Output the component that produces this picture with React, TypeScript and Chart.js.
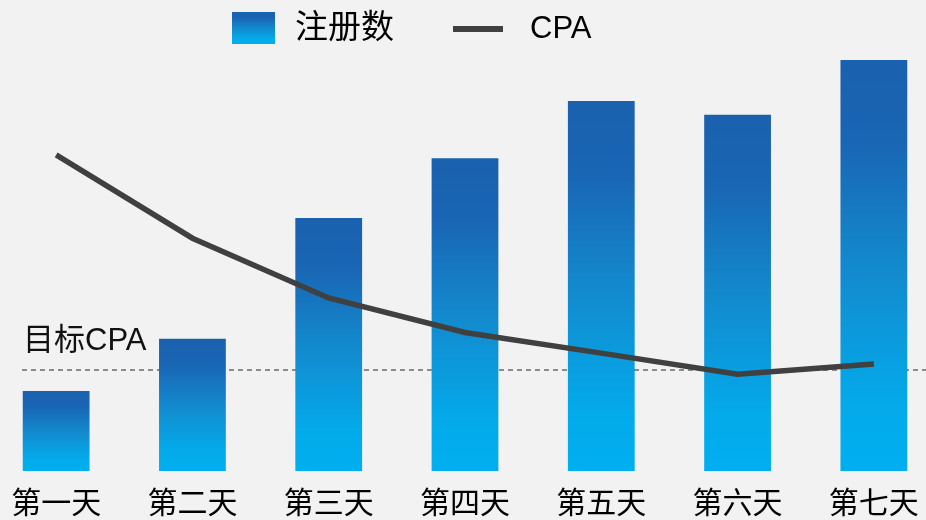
import React, { useEffect, useRef } from "react";
import { Chart, registerables } from "chart.js";

Chart.register(...registerables);

const DAYS = ["第一天", "第二天", "第三天", "第四天", "第五天", "第六天", "第七天"];
const SIGNUPS = [190, 314, 601, 743, 879, 846, 976];
const CPA = [75.1, 55.3, 41.1, 32.9, 28.0, 23.0, 25.4];
const TARGET_CPA = 24.0;
const TARGET_LABEL = "目标CPA";
const LEGEND_BAR = "注册数";
const LEGEND_LINE = "CPA";

const FONT = '"Liberation Sans", "Noto Sans CJK SC", sans-serif';
const LIGHT = "#00aeef";
const LINE_COLOR = "#404040";

// canvas is a bit wider than the page and shifted left so the plot spans edge to edge
const SHIFT = 12;
const CANVAS_W = 954;

function barGradient(ctx: CanvasRenderingContext2D, top: number, bottom: number) {
  const g = ctx.createLinearGradient(0, top, 0, bottom);
  g.addColorStop(0, "#1a61af");
  g.addColorStop(0.2, "#1966b4");
  g.addColorStop(0.5, "#1389cd");
  g.addColorStop(0.85, "#03abeb");
  g.addColorStop(1, LIGHT);
  return g;
}

const targetPlugin = {
  id: "targetLine",
  beforeDatasetsDraw(chart: any) {
    const { ctx } = chart;
    const y = chart.scales.y1.getPixelForValue(TARGET_CPA);
    ctx.save();
    ctx.strokeStyle = "#6a6a6a";
    ctx.lineWidth = 1.6;
    ctx.setLineDash([5, 4]);
    ctx.beginPath();
    ctx.moveTo(22 + SHIFT, y);
    ctx.lineTo(chart.width, y);
    ctx.stroke();
    ctx.setLineDash([]);
    ctx.fillStyle = "#111";
    ctx.font = `31px ${FONT}`;
    ctx.textBaseline = "middle";
    ctx.textAlign = "left";
    ctx.fillText(TARGET_LABEL, 23 + SHIFT, y - 29);
    ctx.restore();
  },
};

const legendPlugin = {
  id: "customLegend",
  afterDraw(chart: any) {
    const { ctx } = chart;
    const x0 = SHIFT;
    ctx.save();
    ctx.fillStyle = barGradient(ctx, 12, 44);
    ctx.fillRect(x0 + 232, 12, 43, 32);
    ctx.fillStyle = "#000";
    ctx.font = `33px ${FONT}`;
    ctx.textBaseline = "middle";
    ctx.textAlign = "left";
    ctx.fillText(LEGEND_BAR, x0 + 295, 29);
    ctx.strokeStyle = LINE_COLOR;
    ctx.lineWidth = 6;
    ctx.beginPath();
    ctx.moveTo(x0 + 453, 29);
    ctx.lineTo(x0 + 503, 29);
    ctx.stroke();
    ctx.font = `31px ${FONT}`;
    ctx.fillText(LEGEND_LINE, x0 + 530, 29);
    ctx.restore();
  },
};

export default function App() {
  const ref = useRef<HTMLCanvasElement>(null);

  useEffect(() => {
    if (!ref.current) return;
    const chart = new Chart(ref.current, {
      type: "bar",
      data: {
        labels: DAYS,
        datasets: [
          {
            type: "line",
            label: LEGEND_LINE,
            data: CPA,
            yAxisID: "y1",
            borderColor: LINE_COLOR,
            borderWidth: 5.5,
            pointRadius: 0,
            tension: 0,
            order: 0,
          } as any,
          {
            type: "bar",
            label: LEGEND_BAR,
            data: SIGNUPS,
            yAxisID: "y",
            barPercentage: 0.49,
            categoryPercentage: 1,
            order: 1,
            backgroundColor: (c: any) => {
              const chart = c.chart;
              const y = chart.scales?.y;
              if (!chart.chartArea || !y) return LIGHT;
              const v = c.parsed?.y ?? c.raw;
              return barGradient(chart.ctx, y.getPixelForValue(v), y.getPixelForValue(0));
            },
          },
        ],
      },
      options: {
        animation: false,
        responsive: false,
        devicePixelRatio: 1,
        layout: { padding: { top: 50, left: 0, right: 0, bottom: 0 } },
        plugins: {
          legend: { display: false },
          tooltip: { enabled: false },
        },
        scales: {
          x: {
            grid: { display: false, drawTicks: false },
            border: { display: false },
            ticks: {
              color: "#000",
              font: { family: FONT, size: 30 },
              padding: 16,
              maxRotation: 0,
              autoSkip: false,
            },
            afterFit: (s: any) => {
              s.height = 49;
            },
          },
          y: { display: false, min: 0, max: 1000 },
          y1: { display: false, min: 0, max: 100 },
        },
      },
      plugins: [targetPlugin, legendPlugin],
    });
    return () => chart.destroy();
  }, []);

  return (
    <div
      style={{
        position: "absolute",
        left: 0,
        top: 0,
        width: 926,
        height: 520,
        overflow: "hidden",
        background: "#f2f2f2",
      }}
    >
      <canvas
        ref={ref}
        width={CANVAS_W}
        height={520}
        style={{ display: "block", position: "absolute", left: -SHIFT, top: 0 }}
      />
    </div>
  );
}
